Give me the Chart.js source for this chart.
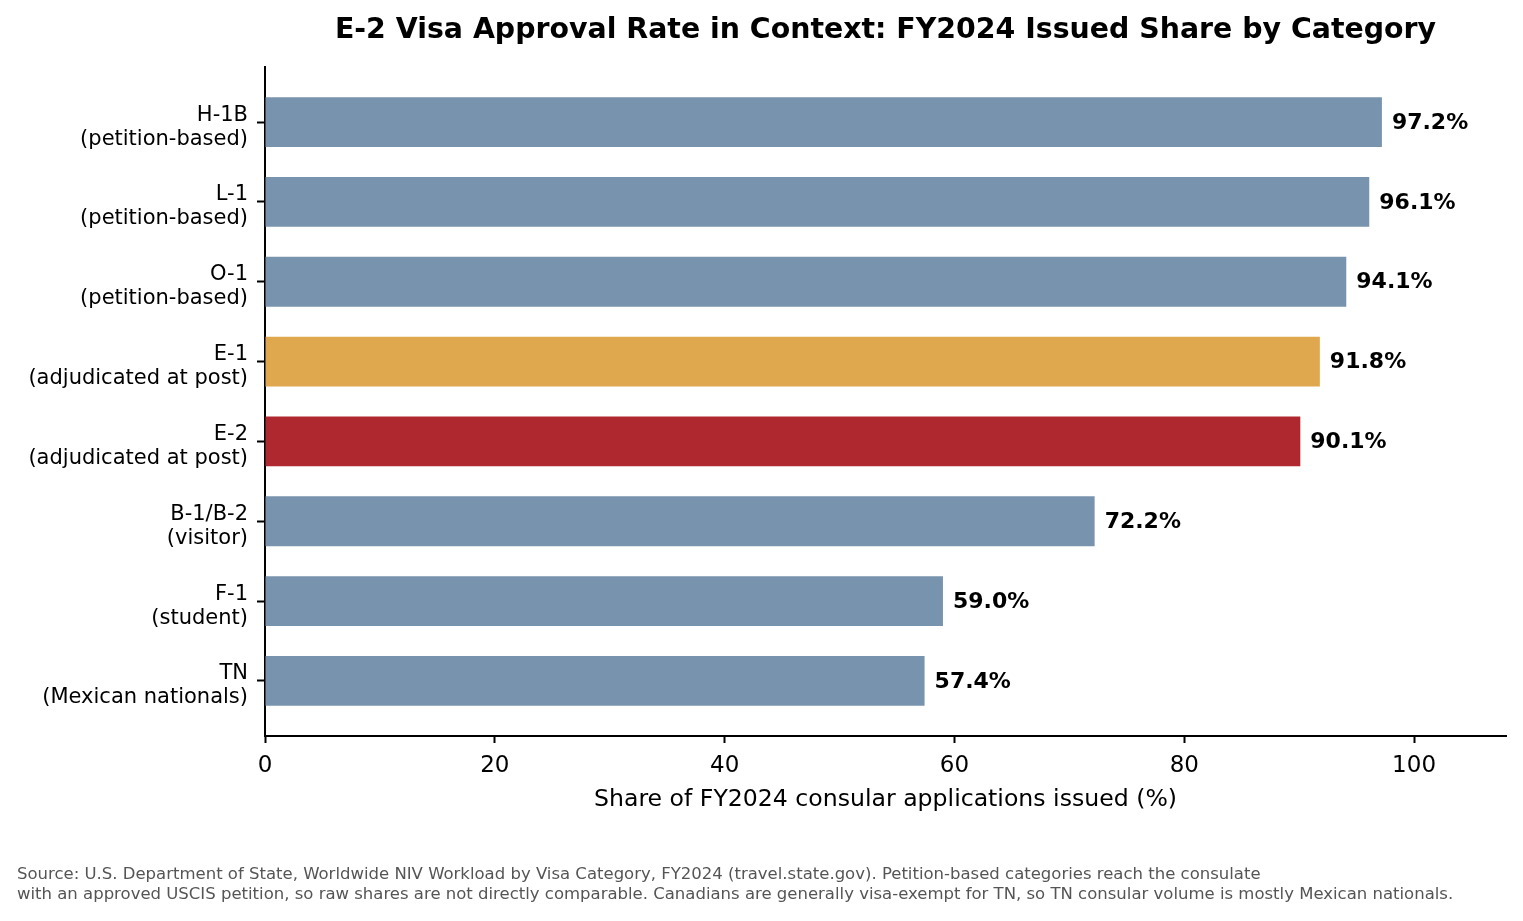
<!DOCTYPE html>
<html>
<head>
<meta charset="utf-8">
<title>E-2 Visa Approval Rate in Context</title>
<script src="https://cdn.jsdelivr.net/npm/chart.js@4.4.1/dist/chart.umd.min.js"></script>
<style>
    html, body { margin: 0; padding: 0; background: #ffffff; }
    #wrap { width: 1523px; height: 921px; }
</style>
</head>
<body>
<div id="wrap"><canvas id="shareChart" width="1523" height="921"></canvas></div>
<script>
// Data
const categories = ['H-1B', 'L-1', 'O-1', 'E-1', 'E-2', 'B-1/B-2', 'F-1', 'TN'];
const subtitles = ['(petition-based)', '(petition-based)', '(petition-based)',
    '(adjudicated at post)', '(adjudicated at post)', '(visitor)', '(student)', '(Mexican nationals)'];
const issuedShare = [97.2, 96.1, 94.1, 91.8, 90.1, 72.2, 59.0, 57.4];
const xTickValues = [0, 20, 40, 60, 80, 100];

const titleText = 'E-2 Visa Approval Rate in Context: FY2024 Issued Share by Category';
const xAxisTitle = 'Share of FY2024 consular applications issued (%)';
const footnote = [
    'Source: U.S. Department of State, Worldwide NIV Workload by Visa Category, FY2024 (travel.state.gov). Petition-based categories reach the consulate',
    'with an approved USCIS petition, so raw shares are not directly comparable. Canadians are generally visa-exempt for TN, so TN consular volume is mostly Mexican nationals.'
];

const FONT = "'DejaVu Sans', sans-serif";

// Colours: highlight E-2, soft accent for E-1
const barColors = categories.map(c => {
    if (c === 'E-2') return '#b0282f';
    if (c === 'E-1') return '#e0a84e';
    return '#7893ad';
});

// Bold value labels at the end of every bar
const valueLabels = {
    id: 'valueLabels',
    afterDatasetsDraw(chart) {
        const ctx = chart.ctx;
        const meta = chart.getDatasetMeta(0);
        ctx.save();
        ctx.font = 'bold 22px ' + FONT;
        ctx.fillStyle = '#000';
        ctx.textAlign = 'left';
        ctx.textBaseline = 'middle';
        meta.data.forEach((bar, i) => {
            ctx.fillText(issuedShare[i].toFixed(1) + '%', bar.x + 10, bar.y + 1);
        });
        ctx.restore();
    }
};

// Title centred over the plot area, plus the source note
const extraText = {
    id: 'extraText',
    afterDraw(chart) {
        const ctx = chart.ctx;
        const area = chart.chartArea;
        ctx.save();
        ctx.fillStyle = '#000';
        ctx.font = 'bold 28.4px ' + FONT;
        ctx.textAlign = 'center';
        ctx.textBaseline = 'middle';
        ctx.fillText(titleText, (area.left + area.right) / 2, 31);

        ctx.fillStyle = '#555555';
        ctx.font = '16.5px ' + FONT;
        ctx.textAlign = 'left';
        footnote.forEach((line, i) => {
            ctx.fillText(line, 17, 875 + i * 20);
        });
        ctx.restore();
    }
};

new Chart(document.getElementById('shareChart'), {
    type: 'bar',
    data: {
        datasets: [{
            label: 'Issued share',
            data: issuedShare.map((v, i) => ({ x: v, y: i })),
            backgroundColor: barColors,
            borderWidth: 0,
            barPercentage: 0.625,
            categoryPercentage: 1
        }]
    },
    options: {
        indexAxis: 'y',
        responsive: false,
        devicePixelRatio: 1,
        animation: false,
        layout: {
            padding: { top: 67, right: 17, bottom: 0, left: 0 }
        },
        plugins: {
            legend: { display: false },
            tooltip: { enabled: false },
            title: { display: false }
        },
        scales: {
            x: {
                type: 'linear',
                bounds: 'data',
                min: 0,
                max: 108,
                afterFit(scale) { scale.height = 185; },
                afterBuildTicks(scale) {
                    scale.ticks = xTickValues.map(v => ({ value: v }));
                },
                border: { display: true, color: '#000', width: 2 },
                grid: {
                    drawOnChartArea: false,
                    drawTicks: true,
                    tickLength: 7,
                    tickWidth: 2,
                    tickColor: '#000'
                },
                ticks: {
                    color: '#000',
                    padding: 9,
                    maxRotation: 0,
                    font: { family: FONT, size: 23 }
                },
                title: {
                    display: true,
                    text: xAxisTitle,
                    color: '#000',
                    font: { family: FONT, size: 23.6 },
                    padding: { top: 0, bottom: 107 }
                }
            },
            y: {
                type: 'linear',
                bounds: 'data',
                offset: false,
                reverse: true,
                min: -0.69,
                max: 7.69,
                afterFit(scale) { scale.width = 265; },
                afterBuildTicks(scale) {
                    scale.ticks = categories.map((_, i) => ({ value: i }));
                },
                border: { display: true, color: '#000', width: 2 },
                grid: {
                    offset: false,
                    drawOnChartArea: false,
                    drawTicks: true,
                    tickLength: 8,
                    tickWidth: 2,
                    tickColor: '#000'
                },
                ticks: {
                    color: '#000',
                    padding: 9,
                    labelOffset: 5,
                    font: { family: FONT, size: 21, lineHeight: '24px' },
                    callback: value => [categories[value], subtitles[value]]
                }
            }
        }
    },
    plugins: [valueLabels, extraText]
});
</script>
</body>
</html>
